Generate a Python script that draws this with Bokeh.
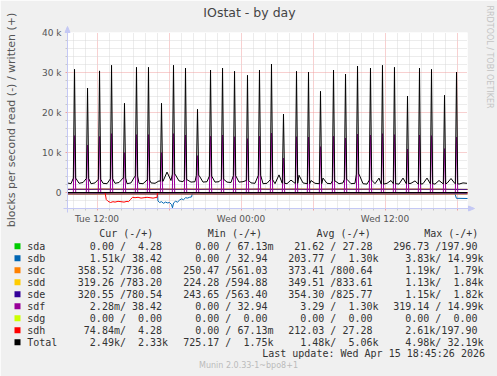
import math
from bokeh.plotting import figure
from bokeh.models import FixedTicker, Span, Range1d, GridBox
from bokeh.core.properties import value
from bokeh.embed import file_html
from bokeh.resources import INLINE

# ------------------------------------------------------------------ data
# time axis: hours counted from Tue 00:00
T_START, T_END = 9.54, 42.875
x_tick_labels = {12: "Tue 12:00", 24: "Wed 00:00", 36: "Wed 12:00"}
y_ticks = [0, 10000, 20000, 30000, 40000]
y_tick_labels = {0: "0", 10000: "10 k", 20000: "20 k", 30000: "30 k", 40000: "40 k"}

# hourly write bursts (total written and sdf written, k blocks/s)
spike_t = [10.125, 11.21, 12.21, 13.21, 14.29, 15.29, 16.29, 17.375, 18.375, 19.375,
           20.375, 21.46, 22.46, 23.46, 24.54, 25.54, 26.54, 27.54, 28.625, 29.625,
           30.625, 31.71, 32.71, 33.71, 34.79, 35.79, 36.79, 37.875, 38.875, 39.875,
           40.96, 41.96]
total_spike = [30.8, 26.1, 30.4, 31.8, 22.3, 31.3, 31.3, 22.3, 31.8, 31.1,
               20.8, 30.6, 31.1, 30.3, 29.3, 30.6, 32.1, 19.6, 30.3, 30.1,
               25.3, 30.6, 29.6, 31.6, 31.1, 31.8, 31.3, 24.1, 31.1, 30.8,
               24.3, 30.1]
sdf_spike = [14.2, 11.85, 14.0, 14.7, 9.95, 14.45, 14.45, 9.95, 14.7, 14.35,
             9.2, 14.1, 14.35, 13.95, 13.45, 14.1, 14.85, 8.6, 13.95, 13.85,
             11.45, 14.1, 13.6, 14.6, 14.35, 14.7, 14.45, 10.85, 14.35, 14.2,
             10.95, 13.85]

# total written between bursts, every 20 minutes from 09:30 (k)
base_t0, base_step = 9.5, 1.0 / 3.0
total_base = [2.4, 2.2, 3.6, 2.3, 2.5, 3.5, 2.2, 2.4, 3.3, 2.3, 2.2, 3.4,
              2.3, 2.5, 3.6, 2.2, 2.4, 4.1, 2.3, 2.2, 3.1, 2.4, 2.3, 2.9,
              2.8, 5.1, 3.0, 4.6, 2.9, 2.7, 3.2, 2.6, 2.7, 4.3, 2.6, 2.7,
              4.1, 2.6, 2.7, 3.3, 2.6, 2.5, 4.2, 2.6, 2.7, 3.0, 2.4, 2.3,
              4.3, 2.2, 2.3, 3.2, 2.2, 4.4, 2.3, 2.2, 3.1, 2.3, 4.3, 2.4,
              2.2, 3.0, 2.3, 2.2, 3.6, 2.3, 2.2, 2.9, 2.2, 2.4, 3.3, 2.2,
              2.3, 4.6, 2.2, 2.1, 3.1, 2.2, 3.6, 2.1, 2.3, 3.0, 2.2, 2.1,
              3.6, 2.2, 2.3, 2.9, 2.1, 2.2, 3.6, 2.2, 2.1, 3.0, 2.2, 2.3,
              3.5, 2.2, 2.1, 2.4, 2.3]

# reads (k blocks/s, drawn downwards)
sdh_read_t = [9.5, 12.67, 12.77, 12.92, 13.125, 13.33, 13.5, 13.75, 14.0, 14.25,
              14.5, 14.625, 14.79, 14.96, 15.17, 15.42, 15.67, 15.92, 16.17, 16.42,
              16.67, 16.92, 17.0, 17.04, 43.0]
sdh_read = [0, 0, 1.75, 2.2, 2.5, 2.3, 2.4, 2.2, 2.3, 2.4,
            2.2, 2.3, 1.75, 1.2, 1.3, 1.2, 1.4, 1.3, 1.2, 1.3,
            1.4, 1.25, 1.3, 0, 0]
sdb_read_t = [9.5, 17.04, 17.08, 17.21, 17.38, 17.54, 17.71, 17.88, 18.04, 18.21,
              18.29, 18.38, 18.54, 18.71, 18.88, 19.04, 19.21, 19.38, 19.54, 19.71,
              19.88, 19.96, 41.8, 41.95, 43.0]
sdb_read = [0, 0, 2.1, 2.5, 2.3, 2.7, 2.4, 2.6, 2.5, 3.0,
            3.83, 2.6, 2.2, 2.4, 1.9, 1.6, 1.8, 1.3, 1.4, 1.2,
            1.1, 0, 0, 1.45, 1.51]

# hourly samples for the three busy mirrors (blocks/s)
hour_t = [9.5 + i for i in range(35)]
sdc_w = [760, 820, 780, 860, 790, 830, 800, 840, 810, 790, 850, 780, 820, 800, 830, 790, 860, 780,
         810, 840, 790, 820, 800, 850, 780, 810, 840, 800, 830, 790, 820, 780, 760, 740, 736]
sdd_w = [800, 780, 850, 810, 830, 790, 860, 820, 800, 840, 810, 850, 790, 830, 860, 810, 820, 850,
         800, 830, 860, 800, 840, 820, 850, 810, 830, 860, 800, 840, 820, 850, 800, 790, 783]
sde_w = [790, 810, 800, 830, 815, 805, 825, 800, 840, 810, 820, 805, 830, 815, 800, 825, 835, 810,
         820, 830, 805, 815, 840, 825, 810, 830, 820, 835, 815, 825, 805, 830, 800, 785, 780]
sdc_r = [370, 380, 360, 390, 375, 365, 385, 370, 380, 360, 390, 370, 375, 385, 365, 380, 370, 390,
         375, 365, 380, 370, 385, 375, 365, 380, 370, 385, 375, 365, 380, 370, 360, 358, 359]
sdd_r = [350, 340, 360, 345, 355, 340, 365, 350, 345, 355, 340, 360, 350, 345, 355, 340, 365, 350,
         345, 355, 340, 360, 350, 345, 355, 340, 360, 350, 345, 355, 340, 350, 330, 320, 319]
sde_r = [340, 360, 350, 330, 370, 355, 345, 365, 350, 340, 360, 355, 345, 370, 350, 340, 360, 355,
         350, 345, 365, 350, 340, 360, 355, 345, 350, 365, 340, 355, 350, 345, 330, 322, 321]

# legend table
devices = ["sda", "sdb", "sdc", "sdd", "sde", "sdf", "sdg", "sdh", "Total"]
dev_colors = ["#00CC00", "#0066B3", "#FF8000", "#FFCC00", "#330099",
              "#990099", "#CCFF00", "#FF0000", "#000000"]
cur_r = ["0.00", "1.51k", "358.52", "319.26", "320.55", "2.28m", "0.00", "74.84m", "2.49k"]
cur_w = ["4.28", "38.42", "736.08", "783.20", "780.54", "38.42", "0.00", "4.28", "2.33k"]
min_r = ["0.00", "0.00", "250.47", "224.28", "243.65", "0.00", "0.00", "0.00", "725.17"]
min_w = ["67.13m", "32.94", "561.03", "594.88", "563.40", "32.94", "0.00", "67.13m", "1.75k"]
avg_r = ["21.62", "203.77", "373.41", "349.51", "354.30", "3.29", "0.00", "212.03", "1.48k"]
avg_w = ["27.28", "1.30k", "800.64", "833.61", "825.77", "1.30k", "0.00", "27.28", "5.06k"]
max_r = ["296.73", "3.83k", "1.19k", "1.13k", "1.15k", "319.14", "0.00", "2.61k", "4.98k"]
max_w = ["197.90", "14.99k", "1.79k", "1.84k", "1.82k", "14.99k", "0.00", "197.90", "32.19k"]
col_headers = ["Cur (-/+)", "Min (-/+)", "Avg (-/+)", "Max (-/+)"]

title_text = "IOstat - by day"
y_label = "blocks per second read (-) / written (+)"
side_text = "RRDTOOL / TOBI OETIKER"
update_text = "Last update: Wed Apr 15 18:45:26 2026"
version_text = "Munin 2.0.33-1~bpo8+1"

# ------------------------------------------------------------------ main chart
FL, FR, FT, FB = 67, 467, 32, 208   # frame edges on the canvas, px
W, H = 497, 376
p = figure(width=W, height=H, x_range=Range1d(T_START, T_END), y_range=Range1d(-4000, 40000),
           output_backend="svg", toolbar_location=None, title=None,
           min_border_left=FL, min_border_right=W - FR, min_border_top=FT, min_border_bottom=H - FB)
p.border_fill_color = "#F0F0F0"
p.background_fill_color = "#FFFFFF"
p.outline_line_color = None

GRID_MAJOR = "#F0A0A0"
GRID_MINOR = "#D8D8D8"
AXIS_COL = "#C4C8F4"
TXT = "#555555"

six_hours = list(range(12, 43, 6))
hours_minor = [h for h in range(10, 43) if h % 6]
p.xaxis.ticker = FixedTicker(ticks=six_hours, minor_ticks=hours_minor)
p.xaxis.major_label_overrides = {h: x_tick_labels.get(h, "") for h in six_hours}
p.xgrid.ticker = FixedTicker(ticks=six_hours, minor_ticks=hours_minor)
ymin = [v for v in range(-2000, 40000, 2000) if v % 10000]
p.yaxis.ticker = FixedTicker(ticks=y_ticks, minor_ticks=ymin)
p.yaxis.major_label_overrides = y_tick_labels
p.ygrid.ticker = FixedTicker(ticks=y_ticks, minor_ticks=ymin)

for g in (p.xgrid[0], p.ygrid[0]):
    g.grid_line_color = GRID_MAJOR
    g.grid_line_dash = "1 1"
    g.minor_grid_line_color = GRID_MINOR
    g.minor_grid_line_dash = "1 1"

for ax in (p.xaxis[0], p.yaxis[0]):
    ax.axis_line_color = AXIS_COL
    ax.major_tick_in = 0
    ax.major_tick_out = 2
    ax.minor_tick_in = 0
    ax.minor_tick_out = 2
    ax.major_tick_line_color = GRID_MAJOR
    ax.minor_tick_line_color = "#C8C8C8"
    ax.major_label_text_font = "DejaVu Sans"
    ax.major_label_text_font_size = "9px"
    ax.major_label_text_color = TXT
p.xaxis.major_label_standoff = 3
p.yaxis.major_label_standoff = 4


def k(vals):
    return [v * 1000 for v in vals]


def neg(vals):
    return [-v for v in vals]


SPIKE_W = 0.1   # half width of a one-sample burst, hours


def spike_line(base_t, base_v, peaks):
    step = base_t[1] - base_t[0]
    pts = [(t, v) for t, v in zip(base_t, base_v)
           if all(abs(t - s) > SPIKE_W for s in spike_t)]
    for s, pk in zip(spike_t, peaks):
        i = min(max(int(round((s - base_t[0]) / step)), 0), len(base_v) - 1)
        b = base_v[i]
        pts += [(s - SPIKE_W, b), (s, pk), (s + SPIKE_W, b)]
    pts.sort()
    return [a for a, _ in pts], [b for _, b in pts]


base_t = [base_t0 + i * base_step for i in range(len(total_base))]

p.line(sdb_read_t, neg(k(sdb_read)), line_color=dev_colors[1], line_width=1)
for w, r, c in ((sdc_w, sdc_r, dev_colors[2]), (sdd_w, sdd_r, dev_colors[3]), (sde_w, sde_r, dev_colors[4])):
    p.line(hour_t, neg(r), line_color=c, line_width=1)
    p.line(hour_t, w, line_color=c, line_width=1)
fx, fy = spike_line([base_t[0], base_t[-1] + 1], [0, 0], k(sdf_spike))
p.line(fx, fy, line_color=dev_colors[5], line_width=1)
p.line(sdh_read_t, neg(k(sdh_read)), line_color=dev_colors[7], line_width=1)
tx, ty = spike_line(base_t, k(total_base), k(total_spike))
p.line(tx, ty, line_color=dev_colors[8], line_width=1)
p.add_layout(Span(location=0, dimension="width", line_color="#000000", line_width=1))

# ------------------------------------------------------------------ overlay for texts (pixel space)
o = figure(width=W, height=H, x_range=Range1d(0, W), y_range=Range1d(0, H),
           output_backend="svg", toolbar_location=None, title=None,
           x_axis_type=None, y_axis_type=None, min_border=0,
           min_border_left=0, min_border_right=0, min_border_top=0, min_border_bottom=0)
o.grid.visible = False
o.background_fill_color = None
o.border_fill_color = None
o.outline_line_color = None
for fig in (p, o):
    if "frame_align" in fig.properties():
        fig.frame_align = False


def Y(cy):
    return H - cy


SANS = value("DejaVu Sans")
MONO = value("DejaVu Sans Mono")
LEG = "#333333"

# axis arrow heads
o.segment([FL], [Y(FB + 4)], [FL], [Y(FT)], line_color=AXIS_COL)
o.patch([FL - 2.5, FL + 2.5, FL], [Y(FT), Y(FT), Y(FT - 6)], fill_color=AXIS_COL, line_color=AXIS_COL)
o.segment([FL - 4], [Y(FB)], [FR + 1], [Y(FB)], line_color=AXIS_COL)
o.patch([FR + 1, FR + 1, FR + 7], [Y(FB) + 2.5, Y(FB) - 2.5, Y(FB)], fill_color=AXIS_COL, line_color=AXIS_COL)

o.text(x=[249], y=[Y(12)], text=[title_text], text_font=SANS, text_font_size="12.5px",
       text_color="#444444", text_align="center", text_baseline="middle")
o.text(x=[10.5], y=[Y(119.5)], text=[y_label], text_font=SANS, text_font_size="11px",
       text_color=TXT, text_align="center", text_baseline="middle", angle=math.pi / 2)
o.text(x=[489], y=[Y(56.5)], text=[side_text], text_font=SANS, text_font_size="8px",
       text_color="#C4C4C4", text_align="center", text_baseline="middle", angle=-math.pi / 2)

CW = 6.02
col_x = [77.3, 182.7, 287.7, 392.7]
head_x = [98.7, 207.3, 316.0, 423.7]
o.text(x=head_x, y=[Y(233.3)] * 4, text=col_headers, text_font=MONO, text_font_size="10px",
       text_color=LEG, text_align="left", text_baseline="middle")

row_y = [Y(245.7 + 12 * i) for i in range(len(devices))]
o.quad(left=[14] * len(devices), right=[20] * len(devices),
       top=[y + 3 for y in row_y], bottom=[y - 3 for y in row_y],
       fill_color=dev_colors, line_color=None)
o.text(x=[26.7] * len(devices), y=row_y, text=devices, text_font=MONO, text_font_size="10px",
       text_color=LEG, text_align="left", text_baseline="middle")

rx, ry, rt, sx, sy, wx, wy, wt = [], [], [], [], [], [], [], []
for i in range(len(devices)):
    for cx, rd, wr in zip(col_x, (cur_r, min_r, avg_r, max_r), (cur_w, min_w, avg_w, max_w)):
        r_s, w_s = rd[i], wr[i]
        rx.append(cx + (7 if r_s[-1].isalpha() else 6) * CW)
        ry.append(row_y[i])
        rt.append(r_s)
        sx.append(cx + 7 * CW)
        sy.append(row_y[i])
        wx.append(cx + (15 if w_s[-1].isalpha() else 14) * CW)
        wy.append(row_y[i])
        wt.append(w_s)
o.text(x=rx, y=ry, text=rt, text_font=MONO, text_font_size="10px", text_color=LEG,
       text_align="right", text_baseline="middle")
o.text(x=sx, y=sy, text=["/"] * len(sx), text_font=MONO, text_font_size="10px", text_color=LEG,
       text_align="left", text_baseline="middle")
o.text(x=wx, y=wy, text=wt, text_font=MONO, text_font_size="10px", text_color=LEG,
       text_align="right", text_baseline="middle")

o.text(x=[261.7], y=[Y(352.7)], text=[update_text], text_font=MONO, text_font_size="10px",
       text_color=LEG, text_align="left", text_baseline="middle")
o.text(x=[248], y=[Y(365)], text=[version_text], text_font=SANS, text_font_size="8px",
       text_color="#BBBBBB", text_align="center", text_baseline="middle")

layout = GridBox(children=[(p, 0, 0), (o, 0, 0)])
open("out.html", "w").write(file_html(layout, INLINE))
